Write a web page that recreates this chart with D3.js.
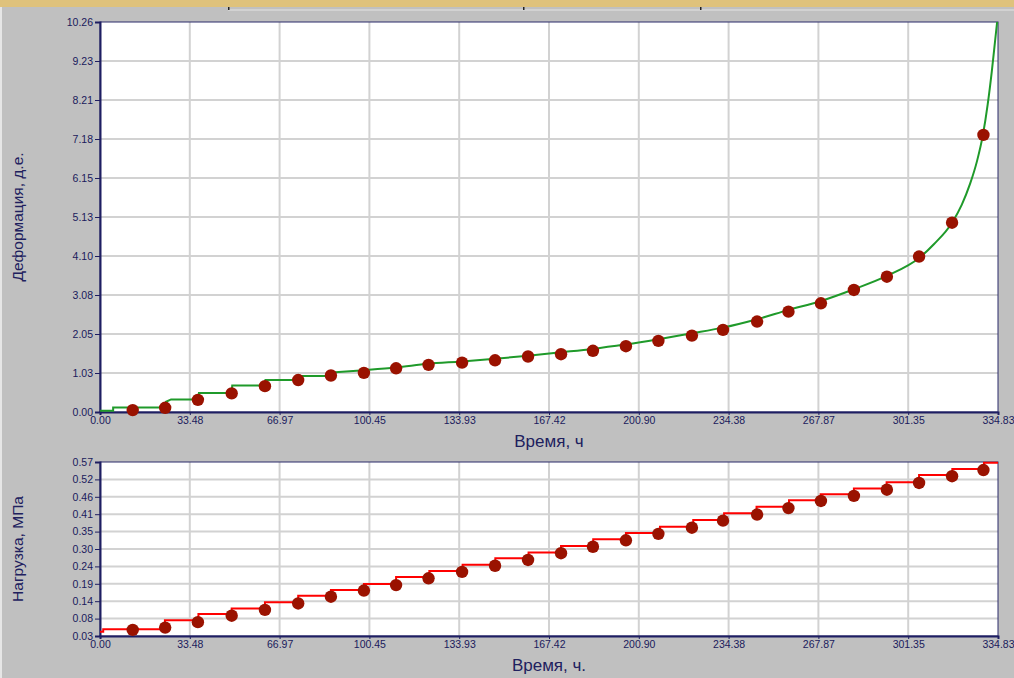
<!DOCTYPE html>
<meta charset="utf-8">
<style>
    body { margin: 0; background: #c0c0c0; }
    svg { display: block; font-family: "Liberation Sans", Arial, sans-serif; }
    .tick text { fill: #1a1a5c; font-size: 10.5px; }
    .axis-title { fill: #20205e; font-size: 15.5px; }
    .axis-title.x { font-size: 17px; }
</style>
<script src="https://d3js.org/d3.v7.min.js"></script>
<div id="chart"></div>
<script>
    // ---- data ----
    const xMax = 334.83;
    const xTickLabels = ["0.00", "33.48", "66.97", "100.45", "133.93", "167.42", "200.90", "234.38", "267.87", "301.35", "334.83"];
    const defMax = 10.26;
    const defTickLabels = ["0.00", "1.03", "2.05", "3.08", "4.10", "5.13", "6.15", "7.18", "8.21", "9.23", "10.26"];
    const loadMin = 0.03, loadMax = 0.57;
    const loadTickLabels = ["0.03", "0.08", "0.14", "0.19", "0.24", "0.30", "0.35", "0.41", "0.46", "0.52", "0.57"];

    // deformation curve (green): stepped start, then smooth
    const defStepT = [0, 4.9, 4.9, 23.9, 24.6, 26.5, 36.7, 36.9, 49.1, 49.3, 61.5, 61.7, 73.6, 73.8, 86.1, 86.3];
    const defStepV = [0.03, 0.03, 0.12, 0.12, 0.27, 0.33, 0.33, 0.50, 0.50, 0.70, 0.70, 0.84, 0.84, 0.95, 0.95, 1.04];
    const defT = [86.3, 98.4, 110.4, 122.3, 135.0, 147.3, 159.6, 171.9, 183.8, 196.1, 207.7, 220.7, 232.3, 245.0, 256.5,
        268.8, 281.1, 293.4, 305.4, 311.0, 317.7, 321.3, 324.4, 327.0, 329.2, 331.0, 332.5, 333.8, 334.5];
    const defV = [1.04, 1.10, 1.17, 1.27, 1.33, 1.40, 1.48, 1.57, 1.66, 1.78, 1.91, 2.07, 2.22, 2.44, 2.68,
        2.92, 3.23, 3.58, 4.05, 4.42, 4.98, 5.45, 6.00, 6.60, 7.29, 8.10, 8.95, 9.80, 10.26];

    // load curve (red), step levels
    const loadT = [0, 1.2, 24.2, 36.7, 49.1, 61.5, 73.9, 86.1, 98.4, 110.4, 122.8, 135.2, 147.4, 159.8,
        171.9, 183.9, 196.1, 208.8, 221.2, 232.7, 244.8, 256.9, 268.7, 281.1, 293.3, 305.4, 317.8, 329.6];
    const loadV = [0.043, 0.051, 0.079, 0.098, 0.115, 0.135, 0.155, 0.173, 0.191, 0.213, 0.232, 0.251, 0.271, 0.289,
        0.309, 0.330, 0.350, 0.369, 0.390, 0.411, 0.431, 0.451, 0.470, 0.488, 0.507, 0.530, 0.548, 0.568];

    // marker points
    const dotT = [12.2, 24.3, 36.5, 49.1, 61.5, 73.9, 86.1, 98.4, 110.4, 122.5, 135.0, 147.3, 159.6, 171.9,
        183.8, 196.1, 208.2, 220.7, 232.3, 245.0, 256.7, 268.8, 281.1, 293.4, 305.4, 317.7, 329.4];
    const dotDef = [0.05, 0.11, 0.32, 0.49, 0.68, 0.84, 0.96, 1.03, 1.15, 1.24, 1.30, 1.36, 1.46, 1.52,
        1.61, 1.73, 1.87, 2.01, 2.16, 2.38, 2.64, 2.86, 3.21, 3.56, 4.09, 4.98, 7.29];
    const dotLoad = [0.049, 0.056, 0.073, 0.093, 0.111, 0.131, 0.152, 0.171, 0.188, 0.209, 0.229, 0.248, 0.266, 0.287,
        0.307, 0.327, 0.347, 0.366, 0.388, 0.407, 0.427, 0.449, 0.465, 0.484, 0.505, 0.526, 0.545];

    // ---- layout ----
    const W = 1014, H = 678;
    const left = 100, right = 998;

    const svg = d3.select("#chart").append("svg")
        .attr("width", W).attr("height", H);

    // window background bits
    svg.append("rect").attr("width", W).attr("height", H).attr("fill", "#c0c0c0");
    svg.append("rect").attr("width", 2).attr("height", H).attr("fill", "#e6e6e6");
    svg.append("rect").attr("width", W).attr("height", 7).attr("fill", "#dfc27c");
    svg.append("line").attr("x1", 228).attr("x2", W).attr("y1", 10).attr("y2", 10)
        .attr("stroke", "#e4e4e4").attr("stroke-width", 1.2);
    [228, 523, 700].forEach(x => svg.append("rect").attr("x", x).attr("y", 7).attr("width", 1.5).attr("height", 3).attr("fill", "#222"));

    const x = d3.scaleLinear().domain([0, xMax]).range([left, right]);

    function panel(top, bottom, yMin, yMaxV, yLabels, yTitle, xTitle) {
        const y = d3.scaleLinear().domain([yMin, yMaxV]).range([bottom, top]);
        const g = svg.append("g");
        g.append("rect").attr("x", left).attr("y", top).attr("width", right - left).attr("height", bottom - top)
            .attr("fill", "#fff");

        const xVals = xTickLabels.map((d, i) => i * xMax / 10);
        const yVals = yLabels.map((d, i) => yMin + i * (yMaxV - yMin) / 10);

        // grid
        g.selectAll(".vg").data(xVals.slice(1, -1)).enter().append("line")
            .attr("x1", d => x(d)).attr("x2", d => x(d)).attr("y1", top).attr("y2", bottom)
            .attr("stroke", "#d2d2d2").attr("stroke-width", 2);
        g.selectAll(".hg").data(yVals.slice(1, -1)).enter().append("line")
            .attr("x1", left).attr("x2", right).attr("y1", d => y(d)).attr("y2", d => y(d))
            .attr("stroke", "#d2d2d2").attr("stroke-width", 2);

        // frame
        g.append("rect").attr("x", left).attr("y", top).attr("width", right - left).attr("height", bottom - top)
            .attr("fill", "none").attr("stroke", "#2a2a6a").attr("stroke-width", 1);

        // axes
        const xa = g.append("g").attr("transform", `translate(0,${bottom})`)
            .call(d3.axisBottom(x).tickValues(xVals).tickFormat((d, i) => xTickLabels[i]).tickSize(3).tickPadding(2));
        const ya = g.append("g").attr("transform", `translate(${left},0)`)
            .call(d3.axisLeft(y).tickValues(yVals).tickFormat((d, i) => yLabels[i]).tickSize(5).tickPadding(2));
        [xa, ya].forEach(a => {
            a.select(".domain").attr("stroke", "#1e1e62").attr("stroke-width", 2);
            a.selectAll(".tick line").attr("stroke", "#1e1e62");
        });

        g.append("text").attr("class", "axis-title x")
            .attr("x", (left + right) / 2).attr("y", bottom + 35).attr("text-anchor", "middle")
            .text(xTitle);
        g.append("text").attr("class", "axis-title")
            .attr("transform", `translate(23,${(top + bottom) / 2}) rotate(-90)`)
            .attr("text-anchor", "middle")
            .text(yTitle);
        return {g, y};
    }

    // top: deformation
    const p1 = panel(22, 412, 0, defMax, defTickLabels, "Деформация, д.е.", "Время, ч");
    p1.g.append("path")
        .datum(defStepT.map((t, i) => [t, defStepV[i]]))
        .attr("fill", "none").attr("stroke", "#1f9a2a").attr("stroke-width", 2)
        .attr("d", d3.line().x(d => x(d[0])).y(d => p1.y(d[1])));
    p1.g.append("path")
        .datum(defT.map((t, i) => [t, defV[i]]))
        .attr("fill", "none").attr("stroke", "#1f9a2a").attr("stroke-width", 2)
        .attr("d", d3.line().curve(d3.curveMonotoneX).x(d => x(d[0])).y(d => p1.y(d[1])));
    p1.g.selectAll(".dot").data(dotT.map((t, i) => [t, dotDef[i]])).enter().append("circle")
        .attr("cx", d => x(d[0])).attr("cy", d => p1.y(d[1])).attr("r", 6.2)
        .attr("fill", "#9a1200");

    // bottom: load
    const p2 = panel(462, 636, loadMin, loadMax, loadTickLabels, "Нагрузка, МПа", "Время, ч.");
    const loadPts = loadT.map((t, i) => [t, loadV[i]]);
    loadPts.push([xMax, loadV[loadV.length - 1]]);
    p2.g.append("path")
        .datum(loadPts)
        .attr("fill", "none").attr("stroke", "#ff0000").attr("stroke-width", 2)
        .attr("d", d3.line().curve(d3.curveStepAfter).x(d => x(d[0])).y(d => p2.y(d[1])));
    p2.g.selectAll(".dot").data(dotT.map((t, i) => [t, dotLoad[i]])).enter().append("circle")
        .attr("cx", d => x(d[0])).attr("cy", d => p2.y(d[1])).attr("r", 6.2)
        .attr("fill", "#9a1200");
</script>
